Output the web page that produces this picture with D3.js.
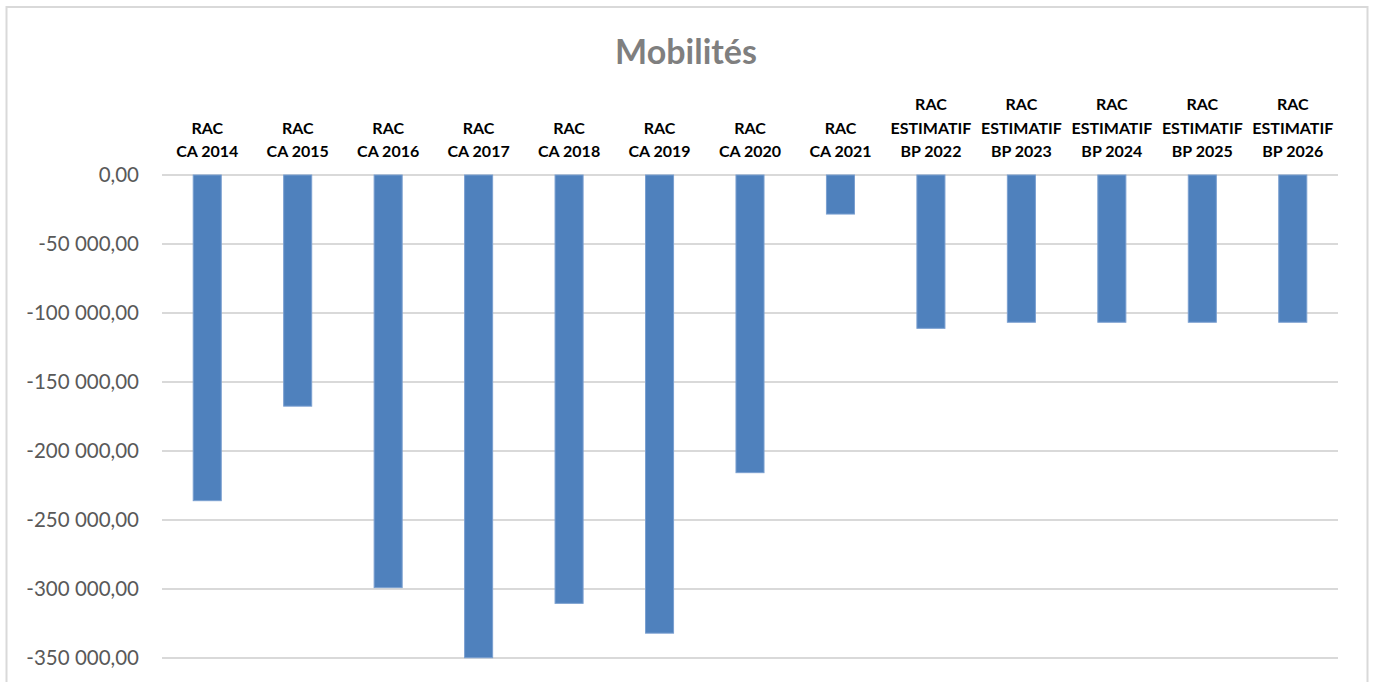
<!DOCTYPE html>
<meta charset="utf-8">
<style>
    body {
        margin: 0;
        background: #fff;
    }
    text {
        font-family: Lato, "Open Sans", sans-serif;
    }
    .grid line {
        stroke: #d9d9d9;
        stroke-width: 2px;
    }
    .y.axis text {
        fill: #595959;
        font-size: 20.5px;
    }
    .cat text {
        fill: #000;
        font-size: 16px;
        font-weight: bold;
    }
    rect.bar {
        fill: #4f81bd;
        stroke: #7a9fd0;
        stroke-width: 1px;
    }
</style>
<body>
<script src="https://cdn.jsdelivr.net/npm/d3@7"></script>
<script>
    var categories = [
        ["RAC", "CA 2014"], ["RAC", "CA 2015"], ["RAC", "CA 2016"], ["RAC", "CA 2017"],
        ["RAC", "CA 2018"], ["RAC", "CA 2019"], ["RAC", "CA 2020"], ["RAC", "CA 2021"],
        ["RAC", "ESTIMATIF", "BP 2022"], ["RAC", "ESTIMATIF", "BP 2023"], ["RAC", "ESTIMATIF", "BP 2024"],
        ["RAC", "ESTIMATIF", "BP 2025"], ["RAC", "ESTIMATIF", "BP 2026"]
    ];
    var values = [-236000, -167500, -299000, -349800, -310400, -332000, -215700, -28300,
        -111100, -106700, -106700, -106700, -106700];
    var yTicks = [0, -50000, -100000, -150000, -200000, -250000, -300000, -350000];
    var title = "Mobilités";

    var width = 1373, height = 682;
    var plot = {left: 162, right: 1338, top: 175, bottom: 658};

    var fr = d3.formatLocale({decimal: ",", thousands: " ", grouping: [3], currency: ["", " €"], minus: "-"});
    var fmt = fr.format(",.2f");

    var svg = d3.select("body").append("svg")
        .attr("width", width)
        .attr("height", height);

    // chart border
    svg.append("rect")
        .attr("x", 6.5).attr("y", 7)
        .attr("width", 1361).attr("height", 700)
        .attr("fill", "#fff")
        .attr("stroke", "#d9d9d9")
        .attr("stroke-width", 2);

    svg.append("text")
        .attr("x", 686)
        .attr("y", 64)
        .attr("text-anchor", "middle")
        .style("font-size", "34px")
        .style("font-weight", "bold")
        .style("fill", "#7f7f7f")
        .text(title);

    var x = d3.scaleBand()
        .domain(d3.range(categories.length))
        .range([plot.left, plot.right])
        .paddingInner(0.69)
        .paddingOuter(0.345);

    var y = d3.scaleLinear()
        .domain([0, -350000])
        .range([plot.top, plot.bottom]);

    svg.append("g")
        .attr("class", "grid")
        .selectAll("line")
        .data(yTicks)
        .join("line")
        .attr("x1", plot.left)
        .attr("x2", plot.right)
        .attr("y1", function(d) { return y(d); })
        .attr("y2", function(d) { return y(d); });

    var yAxis = d3.axisLeft(y)
        .tickValues(yTicks)
        .tickFormat(fmt)
        .tickSize(0)
        .tickPadding(0);

    svg.append("g")
        .attr("class", "y axis")
        .attr("transform", "translate(139,0)")
        .call(yAxis)
        .call(function(g) { g.select(".domain").remove(); });

    svg.append("g")
        .selectAll("rect")
        .data(values)
        .join("rect")
        .attr("class", "bar")
        .attr("x", function(d, i) { return x(i); })
        .attr("width", x.bandwidth())
        .attr("y", function(d) { return y(0); })
        .attr("height", function(d) { return y(d) - y(0); });

    // category labels above the zero line
    var lineH = 23.5;
    var cat = svg.append("g").attr("class", "cat");
    cat.selectAll("text")
        .data(categories)
        .join("text")
        .attr("text-anchor", "middle")
        .attr("transform", function(d, i) { return "translate(" + (x(i) + x.bandwidth() / 2) + ",157)"; })
        .each(function(d) {
            var t = d3.select(this);
            d.forEach(function(line, k) {
                t.append("tspan")
                    .attr("x", 0)
                    .attr("y", -(d.length - 1 - k) * lineH)
                    .text(line);
            });
        });
</script>
</body>
